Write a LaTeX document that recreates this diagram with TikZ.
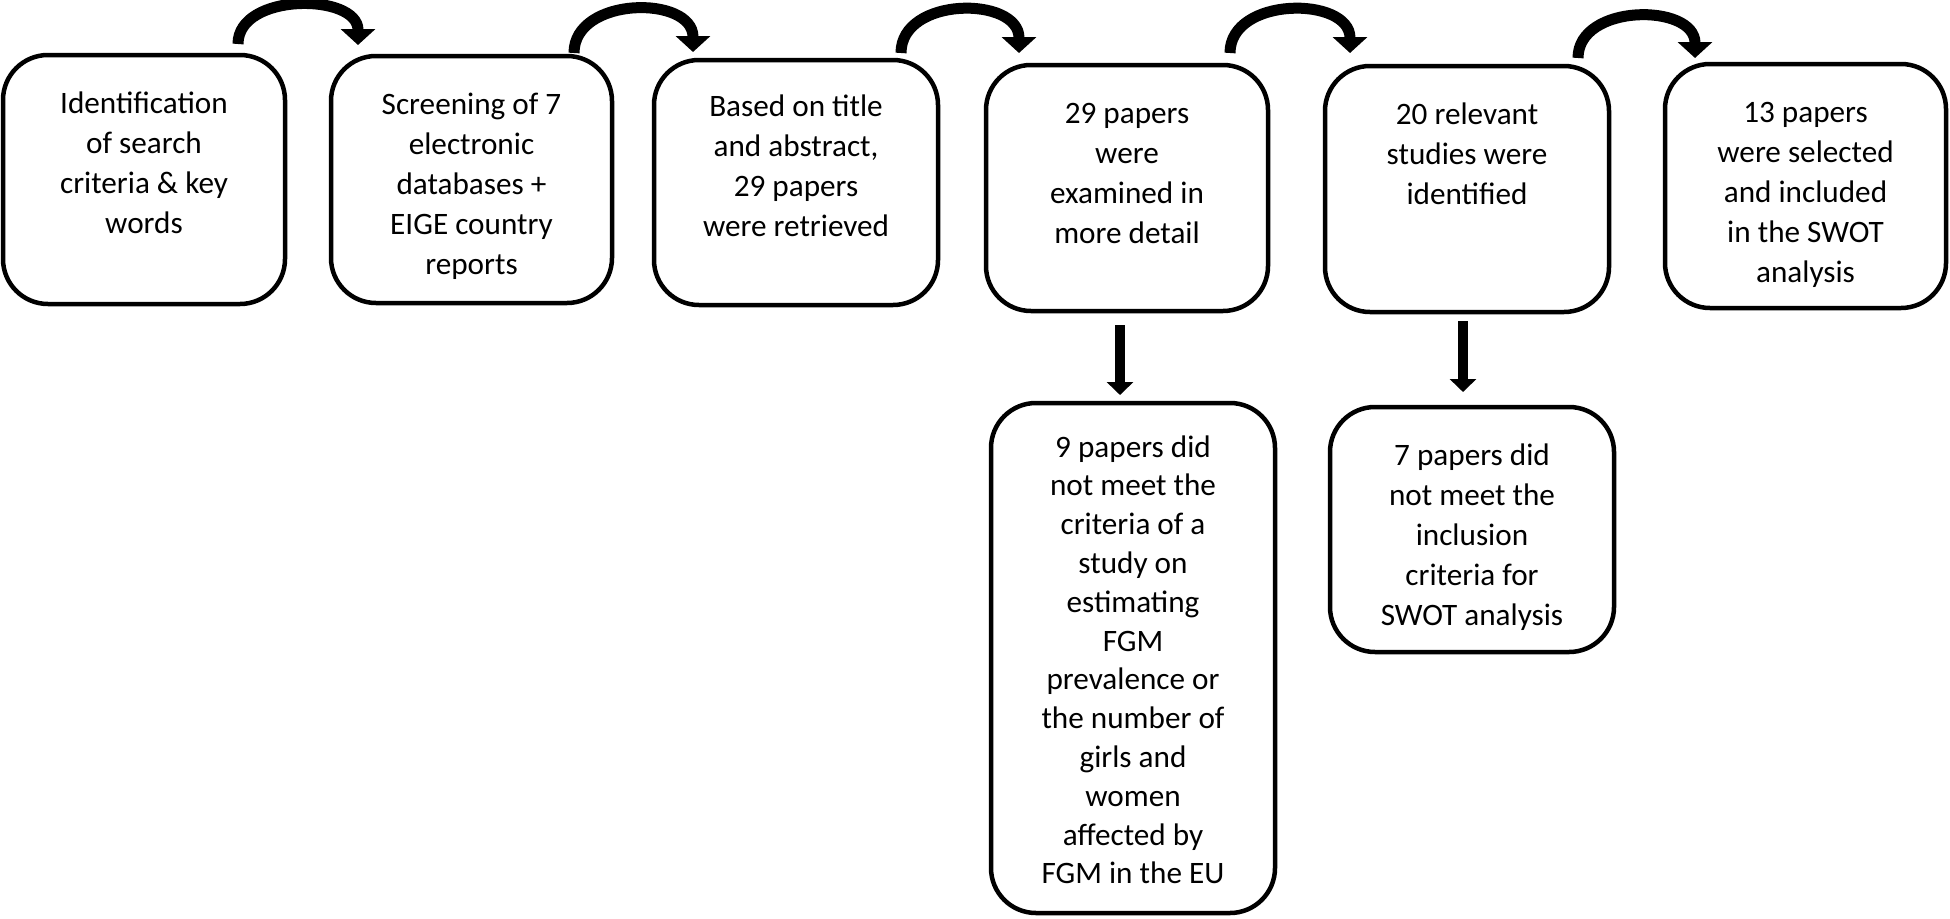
\documentclass[tikz,border=0pt]{standalone}
\usepackage{fontspec}
\setmainfont{Carlito}
\usetikzlibrary{arrows.meta,calc}
\newcommand\bxtext[4]{\parbox[c][#2pt][t]{#1pt}{\centering\vspace*{#3pt}\strut #4}}
\tikzset{
  flowbox/.style={draw, line width=4.5pt, rounded corners=45pt, inner sep=0pt, outer sep=0pt,
    font=\fontsize{31.2}{40}\selectfont},
  tightlines/.style={font=\fontsize{31.2}{38.8}\selectfont},
  curvarrow/.style={line width=11pt, -{Triangle[width=34pt,length=16pt]}},
  downarrow/.style={line width=10pt, -{Triangle[width=26pt,length=13pt]}}
}
\begin{document}
\begin{tikzpicture}[x=1pt,y=-1pt]
\useasboundingbox (0,0) rectangle (1950,918);
% top row
\node[flowbox] (b1) at (144,179.5) {\bxtext{282}{249}{30}{Identification\\of search\\criteria \& key\\words}};
\node[flowbox] (b2) at (471.5,179.5) {\bxtext{281}{247}{30}{Screening of 7\\electronic\\databases +\\EIGE country\\reports}};
\node[flowbox] (b3) at (796,182.5) {\bxtext{284}{245}{28}{Based on title\\and abstract,\\29 papers\\were retrieved}};
\node[flowbox] (b4) at (1127,188) {\bxtext{282}{246}{30}{29 papers\\were\\examined in\\more detail}};
\node[flowbox] (b5) at (1467,189) {\bxtext{284}{246}{30}{20 relevant\\studies were\\identified}};
\node[flowbox] (b6) at (1805.5,186) {\bxtext{281}{244}{30}{13 papers\\were selected\\and included\\in the SWOT\\analysis}};
% lower row
\node[flowbox, tightlines] (b7) at (1133,658) {\bxtext{284}{510}{27}{9 papers did\\not meet the\\criteria of a\\study on\\estimating\\FGM\\prevalence or\\the number of\\girls and\\women\\affected by\\FGM in the EU}};
\node[flowbox] (b8) at (1472,529.5) {\bxtext{284}{245}{30}{7 papers did\\not meet the\\inclusion\\criteria for\\SWOT analysis}};
% curved arrows
\draw[curvarrow] ($(b1.north east)+(-47,-11)$) .. controls +(0,-52) and +(0,-52) .. ($(b2.north west)+(27,-11)$);
\draw[curvarrow] ($(b2.north east)+(-38,-3)$) .. controls +(0,-57) and +(0,-57) .. ($(b3.north west)+(39,-8)$);
\draw[curvarrow] ($(b3.north east)+(-37,-7)$) .. controls +(0,-57) and +(0,-57) .. ($(b4.north west)+(33,-12)$);
\draw[curvarrow] ($(b4.north east)+(-38,-12)$) .. controls +(0,-57) and +(0,-57) .. ($(b5.north west)+(25,-13)$);
\draw[curvarrow] ($(b5.north east)+(-31,-8)$) .. controls +(0,-55) and +(0,-55) .. ($(b6.north west)+(30,-6)$);
% down arrows
\draw[downarrow] ($(b4.south)+(-7,14)$) -- ($(b7.north)+(-13,-8)$);
\draw[downarrow] ($(b5.south)+(-4,9)$) -- ($(b8.north)+(-9,-15)$);
\end{tikzpicture}
\end{document}
